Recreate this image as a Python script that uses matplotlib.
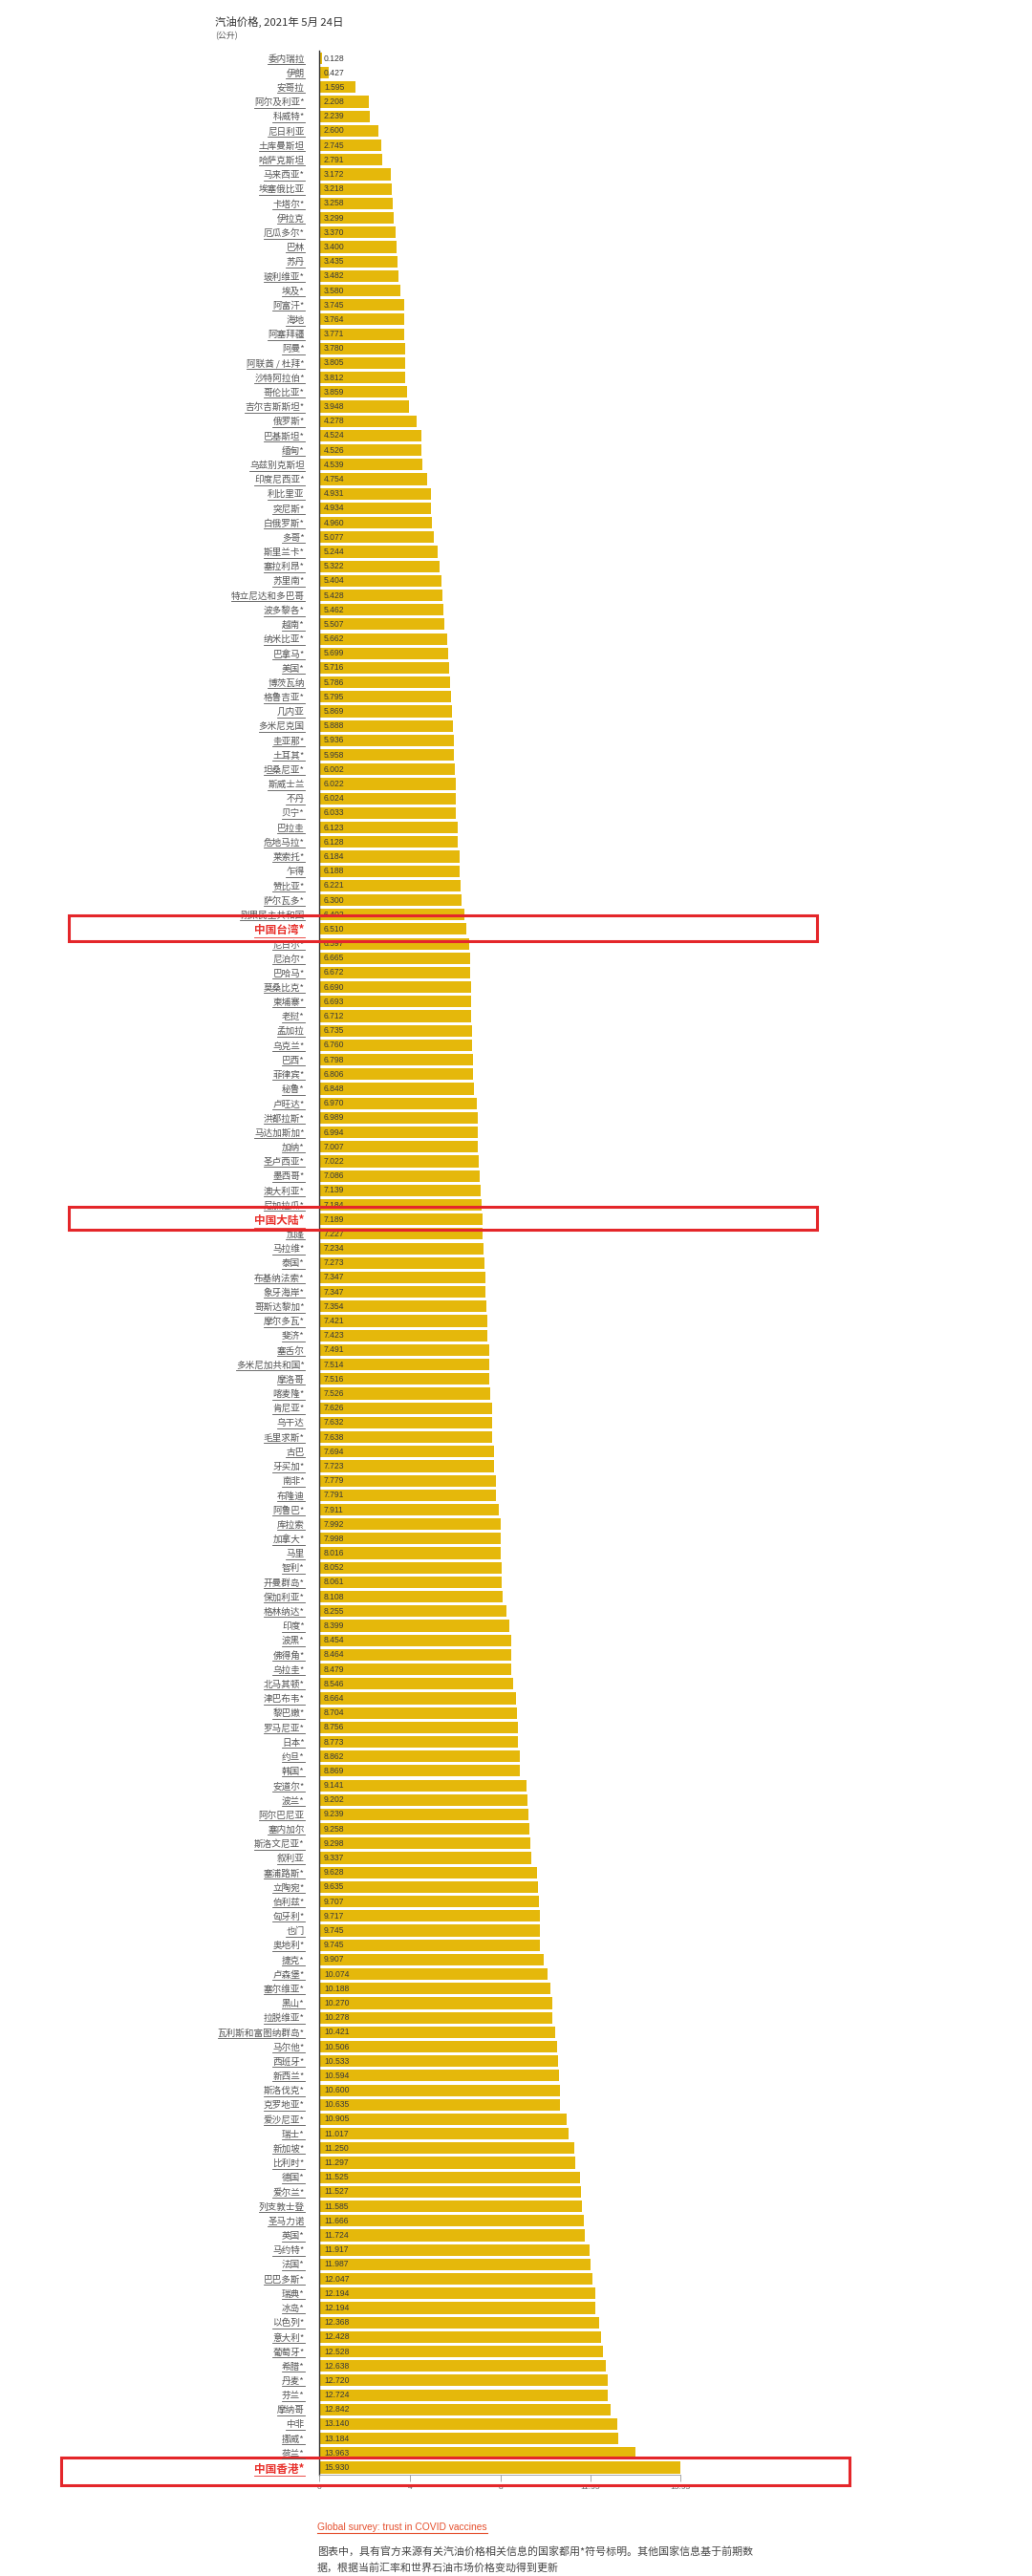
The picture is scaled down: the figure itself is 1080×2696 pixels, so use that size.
import matplotlib
matplotlib.use("Agg")
import matplotlib.pyplot as plt
from matplotlib.lines import Line2D
from matplotlib.patches import Rectangle
import matplotlib.transforms as mtransforms

# ---- data: gasoline price per litre (CNY), 2021-05-24 ----
countries = [
    "委内瑞拉", "伊朗", "安哥拉", "阿尔及利亚*", "科威特*", "尼日利亚", "土库曼斯坦", "哈萨克斯坦",
    "马来西亚*", "埃塞俄比亚", "卡塔尔*", "伊拉克", "厄瓜多尔*", "巴林", "苏丹", "玻利维亚*",
    "埃及*", "阿富汗*", "海地", "阿塞拜疆", "阿曼*", "阿联酋 / 杜拜*", "沙特阿拉伯*", "哥伦比亚*",
    "吉尔吉斯斯坦*", "俄罗斯*", "巴基斯坦*", "缅甸*", "乌兹别克斯坦", "印度尼西亚*", "利比里亚", "突尼斯*",
    "白俄罗斯*", "多哥*", "斯里兰卡*", "塞拉利昂*", "苏里南*", "特立尼达和多巴哥", "波多黎各*", "越南*",
    "纳米比亚*", "巴拿马*", "美国*", "博茨瓦纳", "格鲁吉亚*", "几内亚", "多米尼克国", "圭亚那*",
    "土耳其*", "坦桑尼亚*", "斯威士兰", "不丹", "贝宁*", "巴拉圭", "危地马拉*", "莱索托*",
    "乍得", "赞比亚*", "萨尔瓦多*", "刚果民主共和国", "中国台湾*", "尼日尔*", "尼泊尔*", "巴哈马*",
    "莫桑比克*", "柬埔寨*", "老挝*", "孟加拉", "乌克兰*", "巴西*", "菲律宾*", "秘鲁*",
    "卢旺达*", "洪都拉斯*", "马达加斯加*", "加纳*", "圣卢西亚*", "墨西哥*", "澳大利亚*", "尼加拉瓜*",
    "中国大陆*", "加蓬", "马拉维*", "泰国*", "布基纳法索*", "象牙海岸*", "哥斯达黎加*", "摩尔多瓦*",
    "斐济*", "塞舌尔", "多米尼加共和国*", "摩洛哥", "喀麦隆*", "肯尼亚*", "乌干达", "毛里求斯*",
    "古巴", "牙买加*", "南非*", "布隆迪", "阿鲁巴*", "库拉索", "加拿大*", "马里",
    "智利*", "开曼群岛*", "保加利亚*", "格林纳达*", "印度*", "波黑*", "佛得角*", "乌拉圭*",
    "北马其顿*", "津巴布韦*", "黎巴嫩*", "罗马尼亚*", "日本*", "约旦*", "韩国*", "安道尔*",
    "波兰*", "阿尔巴尼亚", "塞内加尔", "斯洛文尼亚*", "叙利亚", "塞浦路斯*", "立陶宛*", "伯利兹*",
    "匈牙利*", "也门", "奥地利*", "捷克*", "卢森堡*", "塞尔维亚*", "黑山*", "拉脱维亚*",
    "瓦利斯和富图纳群岛*", "马尔他*", "西班牙*", "新西兰*", "斯洛伐克*", "克罗地亚*", "爱沙尼亚*", "瑞士*",
    "新加坡*", "比利时*", "德国*", "爱尔兰*", "列支敦士登", "圣马力诺", "英国*", "马约特*",
    "法国*", "巴巴多斯*", "瑞典*", "冰岛*", "以色列*", "意大利*", "葡萄牙*", "希腊*",
    "丹麦*", "芬兰*", "摩纳哥", "中非", "挪威*", "荷兰*", "中国香港*",
]
prices = [
    0.128, 0.427, 1.595, 2.208, 2.239, 2.600, 2.745, 2.791,
    3.172, 3.218, 3.258, 3.299, 3.370, 3.400, 3.435, 3.482,
    3.580, 3.745, 3.764, 3.771, 3.780, 3.805, 3.812, 3.859,
    3.948, 4.278, 4.524, 4.526, 4.539, 4.754, 4.931, 4.934,
    4.960, 5.077, 5.244, 5.322, 5.404, 5.428, 5.462, 5.507,
    5.662, 5.699, 5.716, 5.786, 5.795, 5.869, 5.888, 5.936,
    5.958, 6.002, 6.022, 6.024, 6.033, 6.123, 6.128, 6.184,
    6.188, 6.221, 6.300, 6.402, 6.510, 6.597, 6.665, 6.672,
    6.690, 6.693, 6.712, 6.735, 6.760, 6.798, 6.806, 6.848,
    6.970, 6.989, 6.994, 7.007, 7.022, 7.086, 7.139, 7.184,
    7.189, 7.227, 7.234, 7.273, 7.347, 7.347, 7.354, 7.421,
    7.423, 7.491, 7.514, 7.516, 7.526, 7.626, 7.632, 7.638,
    7.694, 7.723, 7.779, 7.791, 7.911, 7.992, 7.998, 8.016,
    8.052, 8.061, 8.108, 8.255, 8.399, 8.454, 8.464, 8.479,
    8.546, 8.664, 8.704, 8.756, 8.773, 8.862, 8.869, 9.141,
    9.202, 9.239, 9.258, 9.298, 9.337, 9.628, 9.635, 9.707,
    9.717, 9.745, 9.745, 9.907, 10.074, 10.188, 10.270, 10.278,
    10.421, 10.506, 10.533, 10.594, 10.600, 10.635, 10.905, 11.017,
    11.250, 11.297, 11.525, 11.527, 11.585, 11.666, 11.724, 11.917,
    11.987, 12.047, 12.194, 12.194, 12.368, 12.428, 12.528, 12.638,
    12.720, 12.724, 12.842, 13.140, 13.184, 13.963, 15.930,
]
highlighted = ["中国台湾*", "中国大陆*", "中国香港*"]
tick_values = [0, 4, 8, 11.95, 15.93]
tick_labels = ["0", "4", "8", "11.95", "15.93"]

title = "汽油价格, 2021年 5月 24日"
unit = "(公升)"
link_text = "Global survey: trust in COVID vaccines"
note_lines = [
    "图表中，具有官方来源有关汽油价格相关信息的国家都用*符号标明。其他国家信息基于前期数",
    "据，根据当前汇率和世界石油市场价格变动得到更新",
]

CJK = ["Noto Sans CJK SC", "DejaVu Sans"]
LAT = ["Liberation Sans", "Noto Sans CJK SC"]
plt.rcParams["font.family"] = CJK

W, H, DPI = 1080, 2696, 100
fig = plt.figure(figsize=(W / DPI, H / DPI), dpi=DPI)
fig.patch.set_facecolor("white")

n = len(countries)
row_px = 15.19
top_px = 61 - row_px / 2
x0_px, x1_px = 334, 712
ax = fig.add_axes([x0_px / W, 1 - (top_px + n * row_px) / H,
                   (x1_px - x0_px) / W, n * row_px / H])

bar_color = "#E5B80B"
ypos = list(range(n))
ax.barh(ypos, prices, height=0.8, color=bar_color, edgecolor="none")
ax.set_ylim(n - 0.5, -0.5)
ax.set_xlim(0, max(prices))

for s in ["top", "right"]:
    ax.spines[s].set_visible(False)
ax.spines["left"].set_color("#333333")
ax.spines["left"].set_linewidth(1.0)
ax.spines["bottom"].set_color("#999999")
ax.spines["bottom"].set_linewidth(0.6)

ax.set_yticks(ypos)
ax.set_yticklabels(countries)
ax.tick_params(axis="y", length=0, pad=11)
for lab in ax.get_yticklabels():
    if lab.get_text() in highlighted:
        lab.set_color("#E8302B")
        lab.set_fontsize(8.4)
        lab.set_fontweight("bold")
    else:
        lab.set_color("#555555")
        lab.set_fontsize(6.9)

ax.set_xticks(tick_values)
ax.set_xticklabels(tick_labels, fontsize=6, color="#666666", family=LAT)
ax.tick_params(axis="x", length=5, width=0.6, color="#999999", pad=2)

# value labels inside the bars
for i, v in enumerate(prices):
    ax.annotate(f"{v:.3f}", xy=(0, i), xytext=(5, 0), textcoords="offset pixels",
                ha="left", va="center", fontsize=6.2, color="#3a3a3a", family=LAT)

# title block
fig.text(225 / W, 1 - 23 / H, title, fontsize=8.2, color="#333333",
         ha="left", va="center", family=CJK)
fig.text(225 / W, 1 - 38 / H, unit, fontsize=6.4, color="#555555",
         ha="left", va="center", family=CJK)

# link and footnote
link = fig.text(332 / W, 1 - 2645 / H, link_text, fontsize=7.4, color="#E5502E",
                ha="left", va="center", family=LAT)
for k, line in enumerate(note_lines):
    fig.text(332 / W, 1 - (2670 + k * 17) / H, line, fontsize=7.9,
             color="#444444", ha="left", va="center", family=CJK)

# underline the country links and the survey link
fig.canvas.draw()
renderer = fig.canvas.get_renderer()
inv = fig.transFigure.inverted()


def underline(txt, color, off=1.5, lw=0.6):
    bb = txt.get_window_extent(renderer)
    (xa, ya) = inv.transform((bb.x0, bb.y0 - off))
    (xb, _) = inv.transform((bb.x1, bb.y0 - off))
    fig.add_artist(Line2D([xa, xb], [ya, ya], transform=fig.transFigure,
                          color=color, lw=lw))


for lab in ax.get_yticklabels():
    underline(lab, lab.get_color(), off=0.5)
underline(link, "#E5502E", off=0.5, lw=0.8)

# red marker boxes around the highlighted rows
blend = mtransforms.blended_transform_factory(fig.transFigure, ax.transData)
box_spec = {
    "中国台湾*": (72, 855, -0.92, 0.86),
    "中国大陆*": (72, 855, -0.86, 0.72),
    "中国香港*": (64, 889, -0.7, 1.2),
}
for name, (xl, xr, dy0, dy1) in box_spec.items():
    i = countries.index(name)
    rect = Rectangle((xl / W, i + dy0), (xr - xl) / W, dy1 - dy0,
                     transform=blend, fill=False, edgecolor="#E4262A",
                     linewidth=2.2, clip_on=False)
    fig.add_artist(rect)

fig.savefig("out.png", dpi=DPI, facecolor="white")
